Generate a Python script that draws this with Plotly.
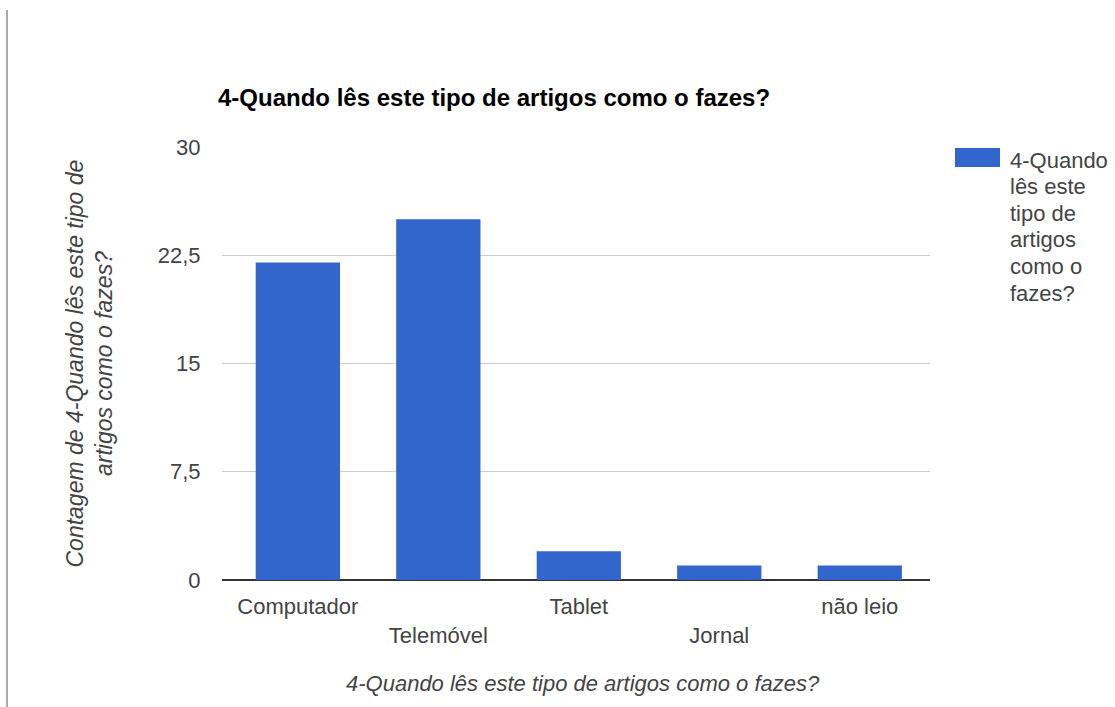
import plotly.graph_objects as go

# Survey responses: how articles of this kind are read
categories = ["Computador", "Telemóvel", "Tablet", "Jornal", "não leio"]
counts = [22, 25, 2, 1, 1]
tick_values = [0, 7.5, 15, 22.5, 30]
tick_labels = ["0", "7,5", "15", "22,5", "30"]
question = "4-Quando lês este tipo de artigos como o fazes?"
legend_lines = ["4-Quando", "lês este", "tipo de", "artigos", "como o", "fazes?"]

W, H = 1115, 707
L, R, T, B = 222, 185, 147, 127
plot_w, plot_h = W - L - R, H - T - B

BLUE = "#3366cc"
FONT = "Liberation Sans, Arial, sans-serif"

# alternate the category labels on two rows so they do not collide
x_ticktext = [c if i % 2 == 0 else "<br>" + c for i, c in enumerate(categories)]

fig = go.Figure(
    go.Bar(
        x=categories,
        y=counts,
        marker=dict(color=BLUE, line=dict(width=0)),
        width=0.6,
        name=question,
        showlegend=False,
    )
)

def px_x(p):
    return (p - L) / plot_w

def px_y(p):
    return (H - B - p) / plot_h

annotations = [
    # y-axis title
    dict(
        text="<i>Contagem de 4-Quando lês este tipo de<br>artigos como o fazes?</i>",
        xref="paper",
        yref="paper",
        x=px_x(89),
        y=0.5,
        xanchor="center",
        yanchor="middle",
        textangle=-90,
        showarrow=False,
        font=dict(family=FONT, size=23, color="#444444"),
    ),
    # x-axis title
    dict(
        text="<i>" + question + "</i>",
        xref="paper",
        yref="paper",
        x=px_x(583),
        y=px_y(683),
        xanchor="center",
        yanchor="middle",
        showarrow=False,
        font=dict(family=FONT, size=22, color="#444444"),
    ),
]

# legend text, one line per annotation for tight line spacing
for i, line in enumerate(legend_lines):
    annotations.append(
        dict(
            text=line,
            xref="paper",
            yref="paper",
            x=px_x(1008),
            y=px_y(160 + 26.6 * i),
            xanchor="left",
            yanchor="middle",
            align="left",
            showarrow=False,
            font=dict(family=FONT, size=22, color="#444444"),
        )
    )

fig.update_layout(
    width=W,
    height=H,
    margin=dict(l=L, r=R, t=T, b=B, autoexpand=False),
    paper_bgcolor="white",
    plot_bgcolor="white",
    font=dict(family=FONT, color="#444444"),
    title=dict(
        text=question,
        x=218 / W,
        xanchor="left",
        xref="container",
        y=1 - 98 / H,
        yanchor="middle",
        yref="container",
        font=dict(family=FONT, size=24, color="#000000", weight="bold"),
    ),
    xaxis=dict(
        range=[-0.54, 4.5],
        tickmode="array",
        tickvals=categories,
        ticktext=x_ticktext,
        tickfont=dict(size=22, color="#444444"),
        ticks="outside",
        ticklen=7,
        tickcolor="rgba(0,0,0,0)",
        showgrid=False,
        showline=False,
        zeroline=False,
        fixedrange=True,
    ),
    yaxis=dict(
        range=[0, 30],
        tickmode="array",
        tickvals=tick_values,
        ticktext=tick_labels,
        tickfont=dict(size=22, color="#444444"),
        ticks="outside",
        ticklen=16,
        tickcolor="rgba(0,0,0,0)",
        showgrid=True,
        gridcolor="#cccccc",
        gridwidth=1,
        zeroline=True,
        zerolinecolor="#333333",
        zerolinewidth=2,
        showline=False,
        fixedrange=True,
    ),
    shapes=[
        # legend swatch
        dict(
            type="rect",
            xref="paper",
            yref="paper",
            x0=px_x(955),
            x1=px_x(1000),
            y0=px_y(167),
            y1=px_y(148),
            fillcolor=BLUE,
            line=dict(width=0),
        ),
        # thin page border on the left
        dict(
            type="line",
            xref="paper",
            yref="paper",
            x0=px_x(7),
            x1=px_x(7),
            y0=px_y(707),
            y1=px_y(10),
            line=dict(color="#aaaaaa", width=2),
        ),
    ],
    annotations=annotations,
)

fig.write_html("out.html")
